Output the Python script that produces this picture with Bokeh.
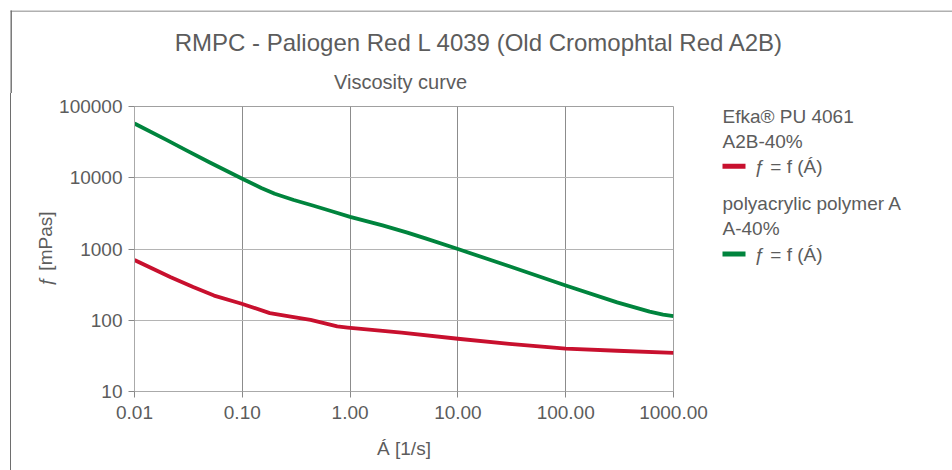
from bokeh.plotting import figure
from bokeh.models import Label, FixedTicker, Div, Spacer
from bokeh.layouts import column, row
from bokeh.embed import file_html
from bokeh.resources import INLINE

# ---- data ----
shear_red = [0.01, 0.0217, 0.035, 0.0547, 0.097, 0.18, 0.3, 0.43, 0.76, 0.95, 3.0, 10.0, 30.0, 100.0, 300.0, 1000.0]
visc_red = [700, 402, 292, 222, 172, 126, 111, 101, 82, 79, 67, 55, 46.5, 40, 37.3, 34.8]

shear_green = [0.01, 0.02, 0.03, 0.05, 0.1, 0.15, 0.2, 0.3, 0.45, 0.7, 1.0, 2.0, 3.4, 5.0, 10.0, 30.0,
               100.0, 300.0, 600.0, 800.0, 1000.0]
visc_green = [57700, 33700, 24400, 16400, 9660, 7200, 5950, 4870, 4080, 3330, 2830, 2140, 1700, 1410, 1000, 572,
              307, 178, 132, 120, 114]

x_ticks = [0.01, 0.1, 1, 10, 100, 1000]
x_tick_labels = ["0.01", "0.10", "1.00", "10.00", "100.00", "1000.00"]
y_ticks = [10, 100, 1000, 10000, 100000]
y_tick_labels = ["10", "100", "1000", "10000", "100000"]

title_text = "RMPC - Paliogen Red L 4039 (Old Cromophtal Red A2B)"
subtitle_text = "Viscosity curve"
series1_lines = ["Efka® PU 4061", "A2B-40%"]
series2_lines = ["polyacrylic polymer A", "A-40%"]
item_label = "ƒ = f (Á)"

RED = "#c8102e"
GREEN = "#00843d"
TXT = "#5c5c5c"
FONT = "Liberation Sans"

W, H = 952, 470
HEAD_H = 93
LINE_X = 10
MAIN_LEFT = 11
MAIN_RIGHT = 715
FRAME_L, FRAME_R, FRAME_T, FRAME_B = 134, 673, 106, 391
ROW_H = H - HEAD_H


def add_text(f, text, x, y, size, align="left"):
    f.add_layout(Label(x=x, y=y, text=text, text_font=FONT, text_font_size=size,
                       text_color=TXT, text_align=align, text_baseline="middle"))


# ---- header: title, subtitle, frame lines (data units = page pixels) ----
head = figure(width=W, height=HEAD_H, x_range=(0, W), y_range=(HEAD_H, 0),
              min_border=0, toolbar_location=None, output_backend="svg",
              x_axis_location=None, y_axis_location=None)
head.grid.visible = False
head.outline_line_color = None
head.quad(left=[LINE_X], right=[W], top=[10], bottom=[11.4], fill_color="#b0b0b0", line_color=None)
head.quad(left=[LINE_X], right=[LINE_X + 1.4], top=[10], bottom=[HEAD_H], fill_color="#6e6e6e", line_color=None)
add_text(head, title_text, 479, 42, "24px", align="center")
add_text(head, subtitle_text, 400, 81, "20px", align="center")

# ---- left frame line ----
gap = Spacer(width=LINE_X, height=ROW_H, margin=0)
vline = Div(text="", width=MAIN_LEFT - LINE_X, height=ROW_H, margin=0,
            styles={"background-color": "#6e6e6e"})

# ---- main chart ----
p = figure(width=MAIN_RIGHT - MAIN_LEFT, height=ROW_H, x_axis_type="log", y_axis_type="log",
           x_range=(0.01, 1000), y_range=(10, 100000),
           output_backend="svg", toolbar_location=None,
           min_border_left=FRAME_L - MAIN_LEFT, min_border_right=MAIN_RIGHT - FRAME_R,
           min_border_top=FRAME_T - HEAD_H, min_border_bottom=H - FRAME_B)

p.line(shear_green, visc_green, line_width=3.8, color=GREEN, line_join="round")
p.line(shear_red, visc_red, line_width=3.8, color=RED, line_join="round")

p.xaxis.ticker = FixedTicker(ticks=x_ticks)
p.yaxis.ticker = FixedTicker(ticks=y_ticks)
p.xaxis.major_label_overrides = {t: s for t, s in zip(x_ticks, x_tick_labels)}
p.yaxis.major_label_overrides = {t: s for t, s in zip(y_ticks, y_tick_labels)}

for ax in (p.xaxis, p.yaxis):
    ax.axis_line_color = "#aaaaaa"
    ax.major_tick_line_color = "#888888"
    ax.major_tick_out = 6
    ax.major_tick_in = 0
    ax.minor_tick_line_color = None
    ax.major_label_text_font = FONT
    ax.major_label_text_font_size = "19px"
    ax.major_label_text_color = TXT
    ax.axis_label_text_font = FONT
    ax.axis_label_text_font_size = "19px"
    ax.axis_label_text_color = TXT
    ax.axis_label_text_font_style = "normal"

p.xaxis.axis_label = "Á [1/s]"
p.yaxis.axis_label = "ƒ [mPas]"
p.xaxis.major_label_standoff = 8
p.xaxis.axis_label_standoff = 16
p.yaxis.major_label_standoff = 6
p.yaxis.axis_label_standoff = 0

p.xgrid.grid_line_color = "#8c8c8c"
p.ygrid.grid_line_color = "#b4b4b4"
p.outline_line_color = "#a0a0a0"

# ---- legend panel: same frame rows as the chart, data units = page pixels ----
leg = figure(width=W - MAIN_RIGHT, height=ROW_H, x_range=(MAIN_RIGHT, W), y_range=(FRAME_B, FRAME_T),
             min_border_left=0, min_border_right=0,
             min_border_top=FRAME_T - HEAD_H, min_border_bottom=H - FRAME_B,
             toolbar_location=None, output_backend="svg",
             x_axis_location=None, y_axis_location=None)
leg.grid.visible = False
leg.outline_line_color = None
add_text(leg, series1_lines[0], 722, 115.7, "19px")
add_text(leg, series1_lines[1], 722, 140.5, "19px")
add_text(leg, item_label, 754, 166, "19px")
add_text(leg, series2_lines[0], 722, 203, "19px")
add_text(leg, series2_lines[1], 722, 227.5, "19px")
add_text(leg, item_label, 754, 253.7, "19px")
leg.quad(left=[722], right=[745], top=[163.2], bottom=[168.2], fill_color=RED, line_color=None)
leg.quad(left=[722], right=[745], top=[251.1], bottom=[256.1], fill_color=GREEN, line_color=None)

layout = column(head, row(gap, vline, p, leg))
open("out.html", "w").write(file_html(layout, INLINE))
